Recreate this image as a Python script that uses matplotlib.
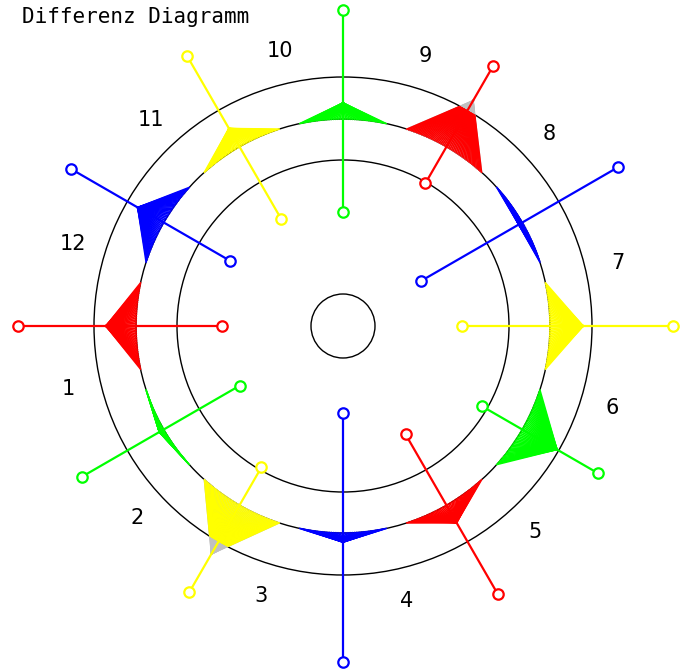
import numpy as np
import matplotlib
matplotlib.use("Agg")
import matplotlib.pyplot as plt
from matplotlib.patches import Circle

# ---- data ----
segments = ["1", "2", "3", "4", "5", "6", "7", "8", "9", "10", "11", "12"]
seg_colors = ["#ff0000", "#00ff00", "#ffff00", "#0000ff"] * 3
stick_inner = [121, 119, 163, 87, 125, 160, 119, 90, 165, 114, 124, 130]
stick_outer = [325, 301, 307, 336, 309, 294, 330, 318, 300, 316, 312, 314]
tip_radius = [237, 212, 263, 216, 227, 247, 240, 203, 260, 223, 228, 237]
ring_radii = [166, 207, 249]
hub_radius = 32
title = "Differenz Diagramm"

# ---- layout ----
W, H = 692, 669
cx, cy = 343, 326
base_r = ring_radii[1]
half_w = np.deg2rad(12)
n_fan = 50

fig = plt.figure(figsize=(W / 100, H / 100), dpi=100)
ax = fig.add_axes([0, 0, 1, 1])
ax.set_xlim(-cx, W - cx)
ax.set_ylim(-(H - cy), cy)
ax.axis("off")

for r in ring_radii + [hub_radius]:
    ax.add_patch(Circle((0, 0), r, fill=False, ec="black", lw=1.0, zorder=1))

clip_circle = Circle((0, 0), ring_radii[2], transform=ax.transData)

for i, lab in enumerate(segments):
    th = np.deg2rad(180 + 30 * i)
    col = seg_colors[i]
    tx, ty = tip_radius[i] * np.cos(th), tip_radius[i] * np.sin(th)
    phis = np.linspace(th - half_w, th + half_w, n_fan)
    bx, by = base_r * np.cos(phis), base_r * np.sin(phis)
    # grey part beyond outer ring
    if tip_radius[i] > ring_radii[2]:
        for x, y in zip(bx, by):
            ax.plot([tx, x], [ty, y], color="#c0c0c0", lw=1.2, zorder=2)
    for x, y in zip(bx, by):
        ln, = ax.plot([tx, x], [ty, y], color=col, lw=1.2, zorder=3)
        ln.set_clip_path(clip_circle)
    # stick
    r0, r1 = stick_inner[i], stick_outer[i]
    ax.plot([r0 * np.cos(th), r1 * np.cos(th)], [r0 * np.sin(th), r1 * np.sin(th)],
            color=col, lw=1.6, zorder=4)
    ax.plot([r0 * np.cos(th), r1 * np.cos(th)], [r0 * np.sin(th), r1 * np.sin(th)],
            ls="none", marker="o", ms=7.5, mfc="white", mec=col, mew=1.6, zorder=5)
    # label
    la = th + np.deg2rad(13)
    ax.text(282 * np.cos(la), 282 * np.sin(la), lab, ha="center", va="center",
            fontsize=15, color="black", family="DejaVu Sans")

fig.text(22 / W, 1 - 17 / H, title, ha="left", va="center",
         fontsize=15, family="DejaVu Sans Mono", color="black")

fig.savefig("out.png", dpi=100)
